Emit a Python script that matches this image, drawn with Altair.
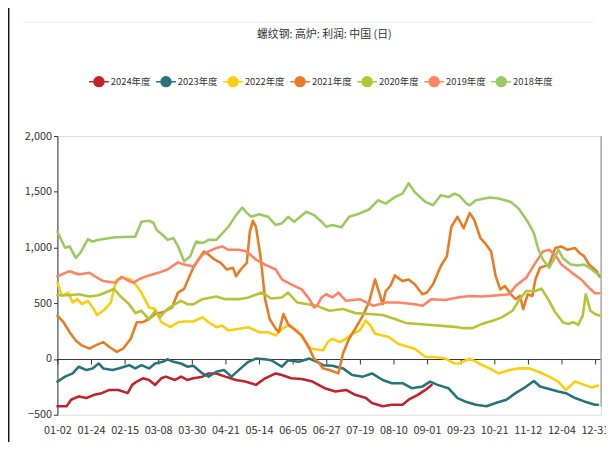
import json
import altair as alt
import pandas as pd

# ---------------- data ----------------
day_labels = ["01-02", "01-24", "02-15", "03-08", "03-30", "04-21", "05-14", "06-05",
              "06-27", "07-19", "08-10", "09-01", "09-23", "10-21", "11-12", "12-04", "12-31"]
series_names = ["2024年度", "2023年度", "2022年度", "2021年度", "2020年度", "2019年度", "2018年度"]
series_colors = ["#C1232B", "#27727B", "#FCCE10", "#E87C25", "#B5C334", "#FE8463", "#9BCA63"]
title_text = "螺纹钢: 高炉: 利润: 中国 (日)"

x_2024 = [0, 6, 9, 14, 19, 24, 29, 34, 40, 46, 49, 52, 56, 60, 64, 68, 71, 77, 81, 85, 89, 95, 99, 104,
          110, 117, 123, 130, 136, 143, 147, 153, 160, 167, 175, 182, 189, 195, 202, 206, 213, 219, 226,
          230, 236, 241, 245]
v_2024 = [-424, -424, -365, -335, -350, -321, -306, -277, -277, -306, -232, -202, -173, -188, -232, -173,
          -158, -188, -158, -188, -173, -158, -129, -129, -158, -188, -202, -232, -173, -129, -143, -173,
          -179, -202, -262, -291, -277, -321, -350, -395, -424, -410, -410, -365, -321, -277, -232]

x_2023 = [0, 5, 10, 14, 19, 23, 27, 30, 36, 40, 47, 51, 55, 60, 64, 69, 72, 76, 81, 85, 89, 95, 99, 104,
          109, 114, 120, 125, 130, 136, 140, 147, 151, 158, 165, 170, 174, 180, 187, 193, 200, 206, 213,
          219, 226, 232, 239, 244, 249, 256, 262, 268, 274, 281, 287, 294, 300, 307, 312, 316, 322, 328,
          333, 339, 345, 352, 354]
v_2023 = [-202, -158, -129, -69, -99, -84, -40, -84, -99, -84, -55, -84, -55, -84, -40, -25, -2, -25, -40,
          -69, -60, -129, -158, -114, -99, -158, -84, -25, 4, -2, -11, -69, -11, -25, 4, -25, -55, -61, -84,
          -143, -158, -129, -188, -217, -217, -262, -247, -202, -232, -262, -350, -386, -410, -424, -395,
          -365, -306, -247, -197, -247, -268, -291, -306, -350, -380, -410, -410]

x_2022 = [0, 3, 7, 10, 13, 16, 20, 23, 26, 30, 35, 37, 39, 43, 48, 52, 55, 60, 64, 68, 74, 79, 83, 89, 95,
          99, 104, 108, 112, 119, 125, 132, 138, 143, 147, 151, 157, 162, 166, 170, 174, 177, 180, 185, 189,
          193, 198, 202, 205, 208, 213, 217, 223, 230, 234, 241, 247, 254, 260, 263, 270, 276, 283, 289,
          296, 302, 309, 315, 322, 328, 333, 339, 345, 350, 354]
v_2022 = [685, 566, 596, 507, 537, 492, 522, 463, 395, 433, 507, 625, 714, 729, 714, 655, 596, 463, 448, 330,
          286, 330, 336, 337, 374, 330, 286, 300, 256, 271, 286, 241, 241, 211, 271, 300, 256, 167, 93, 85,
          78, 152, 182, 152, 182, 226, 256, 344, 300, 226, 211, 197, 137, 108, 93, 19, 19, 4, -40, -40, 4,
          -40, -84, -129, -99, -84, -84, -114, -158, -202, -277, -202, -232, -255, -238]

x_2021 = [0, 4, 8, 12, 16, 21, 25, 30, 34, 39, 43, 48, 52, 56, 60, 64, 69, 75, 79, 83, 87, 89, 93, 96, 99,
          103, 107, 111, 115, 117, 120, 124, 126, 128, 130, 133, 136, 139, 143, 145, 148, 151, 156, 160, 165,
          168, 171, 174, 178, 184, 187, 191, 195, 200, 204, 208, 210, 213, 215, 218, 221, 226, 230, 234, 239,
          242, 246, 251, 255, 258, 262, 266, 270, 273, 277, 280, 284, 287, 290, 293, 297, 300, 303, 305, 308,
          311, 313, 316, 322, 326, 330, 334, 339, 342, 345, 348, 353, 355]
v_2021 = [389, 330, 241, 167, 122, 93, 122, 152, 108, 64, 93, 182, 330, 330, 359, 404, 419, 463, 596, 630,
          758, 818, 906, 965, 936, 891, 862, 803, 818, 743, 803, 862, 1142, 1240, 1187, 921, 537, 359, 271,
          241, 404, 315, 256, 211, 93, 4, -30, -84, -99, -129, 49, 182, 271, 389, 507, 714, 625, 492, 610,
          655, 750, 699, 714, 670, 581, 596, 670, 832, 921, 1187, 1276, 1173, 1311, 1246, 1084, 1040, 965,
          743, 625, 655, 581, 537, 566, 448, 581, 566, 714, 818, 847, 995, 1010, 980, 995, 951, 921, 850, 790,
          740]

x_2020 = [0, 8, 14, 21, 27, 34, 37, 41, 47, 51, 55, 60, 64, 67, 72, 77, 81, 85, 89, 95, 104, 110, 119, 125,
          134, 140, 147, 151, 157, 164, 170, 178, 187, 195, 204, 213, 221, 228, 236, 245, 254, 262, 266, 272,
          278, 285, 291, 298, 302, 307, 313, 317, 322, 326, 331, 334, 338, 341, 344, 346, 349, 352, 355]
v_2020 = [572, 572, 581, 561, 572, 610, 631, 566, 492, 412, 433, 359, 433, 374, 448, 492, 522, 492, 490, 537,
          561, 537, 537, 552, 596, 543, 552, 596, 507, 492, 477, 433, 448, 412, 404, 395, 359, 324, 315, 306,
          295, 286, 277, 277, 315, 344, 374, 433, 522, 610, 610, 631, 522, 419, 330, 315, 330, 306, 389, 581,
          433, 404, 389]

x_2019 = [0, 8, 14, 21, 25, 30, 38, 42, 47, 50, 54, 60, 66, 72, 79, 83, 89, 95, 99, 104, 108, 112, 119, 124,
          130, 136, 143, 147, 153, 160, 165, 168, 170, 173, 176, 180, 184, 189, 198, 207, 215, 223, 234, 239,
          245, 254, 262, 270, 278, 289, 296, 300, 307, 313, 318, 322, 326, 330, 337, 343, 347, 352, 355]
v_2019 = [743, 788, 758, 773, 738, 699, 685, 738, 699, 685, 720, 750, 773, 803, 867, 847, 830, 936, 965, 995,
          1010, 980, 980, 965, 891, 847, 803, 714, 670, 625, 537, 463, 477, 552, 581, 552, 596, 522, 537, 477,
          507, 507, 492, 477, 537, 530, 552, 566, 561, 572, 581, 655, 729, 862, 965, 980, 936, 847, 773, 714,
          655, 590, 590]

x_2018 = [0, 5, 8, 12, 15, 20, 23, 27, 38, 51, 55, 60, 63, 65, 69, 72, 76, 79, 83, 87, 89, 91, 95, 99, 104,
          108, 112, 117, 121, 124, 127, 132, 138, 143, 147, 151, 155, 163, 168, 173, 176, 180, 186, 191, 198,
          204, 210, 215, 221, 226, 230, 234, 241, 246, 251, 256, 260, 263, 268, 270, 274, 283, 289, 297, 302,
          308, 312, 315, 318, 322, 325, 328, 331, 336, 341, 345, 350, 354]
v_2018 = [1142, 998, 1010, 906, 953, 1075, 1054, 1069, 1093, 1098, 1231, 1240, 1220, 1158, 1113, 1069, 1084,
          1010, 876, 921, 995, 1054, 1040, 1069, 1069, 1128, 1187, 1291, 1359, 1311, 1276, 1299, 1276, 1202,
          1217, 1276, 1231, 1320, 1291, 1231, 1187, 1202, 1181, 1276, 1306, 1341, 1424, 1394, 1453, 1483,
          1577, 1497, 1409, 1379, 1468, 1453, 1483, 1468, 1394, 1379, 1424, 1448, 1439, 1409, 1350, 1231,
          1128, 980, 891, 818, 891, 980, 906, 847, 838, 847, 803, 758]

series_x = [x_2024, x_2023, x_2022, x_2021, x_2020, x_2019, x_2018]
series_v = [v_2024, v_2023, v_2022, v_2021, v_2020, v_2019, v_2018]

rows = []
for name, xs, vs in zip(series_names, series_x, series_v):
    for xi, vi in zip(xs, vs):
        rows.append({"series": name, "idx": xi, "value": vi})
df = pd.DataFrame(rows)
legend_df = pd.DataFrame({"series": series_names, "k": list(range(len(series_names)))})

# ---------------- layout ----------------
W, H = 550, 282
X_MAX = 356
Y_MIN, Y_MAX = -500, 2000
zero_offset = -H * (0 - Y_MIN) / (Y_MAX - Y_MIN)   # move x axis line onto the zero line
FONT = "Noto Sans CJK SC"

tick_vals = [i * 22 for i in range(len(day_labels))]
label_expr = json.dumps(day_labels) + "[round(datum.value / 22)]"
series_scale = alt.Scale(domain=series_names, range=series_colors)

lines = alt.Chart(df).mark_line(strokeWidth=2.6, strokeJoin="round", strokeCap="round").encode(
    x=alt.X("idx:Q",
            scale=alt.Scale(domain=[0, X_MAX], nice=False, zero=False),
            axis=alt.Axis(values=tick_vals, labelExpr=label_expr, title=None, grid=False,
                          offset=zero_offset, domainColor="#333333", domainWidth=1,
                          tickColor="#333333", tickSize=5, labelPadding=61,
                          labelFlush=False, labelOverlap=False, labelFontSize=11,
                          labelColor="#333333", labelFont=FONT)),
    y=alt.Y("value:Q",
            scale=alt.Scale(domain=[Y_MIN, Y_MAX], nice=False, zero=False),
            axis=alt.Axis(values=[-500, 0, 500, 1000, 1500, 2000], format=",.0f", title=None, grid=False,
                          domainColor="#333333", tickColor="#333333", tickSize=4, labelPadding=2,
                          labelOverlap=False, labelFontSize=11, labelColor="#333333", labelFont=FONT)),
    color=alt.Color("series:N", scale=series_scale, sort=series_names, legend=None),
)

# ---- legend (line + dot symbol, label to the right) ----
legend_symbol = "M-1,0L1,0M-0.5,0A0.5,0.5,0,1,1,0.5,0A0.5,0.5,0,1,1,-0.5,0Z"
leg_x = alt.X("k:Q", scale=alt.Scale(domain=[0, 6], range=[42, 449]), axis=None)
leg_sym = alt.Chart(legend_df).mark_point(shape=legend_symbol, size=400, filled=True,
                                          strokeWidth=1.5, opacity=1).encode(
    x=leg_x, y=alt.value(-55),
    fill=alt.Fill("series:N", scale=series_scale, legend=None),
    stroke=alt.Stroke("series:N", scale=series_scale, legend=None),
)
leg_txt = alt.Chart(legend_df).mark_text(font=FONT, fontSize=9.5, color="#333333", align="left",
                                         baseline="middle", dx=12).encode(
    x=leg_x, y=alt.value(-55), text="series:N")

one = pd.DataFrame({"t": [title_text]})
title = alt.Chart(one).mark_text(font=FONT, fontSize=11, color="#333333", align="center",
                                 baseline="middle").encode(
    x=alt.value(270), y=alt.value(-102), text="t:N")

left_border = alt.Chart(one).mark_rule(color="#111111", strokeWidth=1.5).encode(
    x=alt.value(-49.3), y=alt.value(-130), y2=alt.value(H + 30))
right_edge = alt.Chart(one).mark_rule(color="#aaaaaa", strokeWidth=1.5).encode(
    x=alt.value(W), y=alt.value(0), y2=alt.value(H - 8))
top_line = alt.Chart(one).mark_rule(color="#eeeeee", strokeWidth=1).encode(
    x=alt.value(-35), x2=alt.value(543), y=alt.value(-115))

chart = alt.layer(top_line, left_border, right_edge, lines, leg_sym, leg_txt, title).resolve_scale(
    x="independent", y="independent"
).properties(
    width=W, height=H,
    padding={"left": 50, "top": 127, "right": 5, "bottom": 25},
    autosize=alt.AutoSizeParams(type="none"),
).configure_view(stroke=None).configure(background="white")

chart.save("out.html", embed_options={"renderer": "svg", "actions": False})
